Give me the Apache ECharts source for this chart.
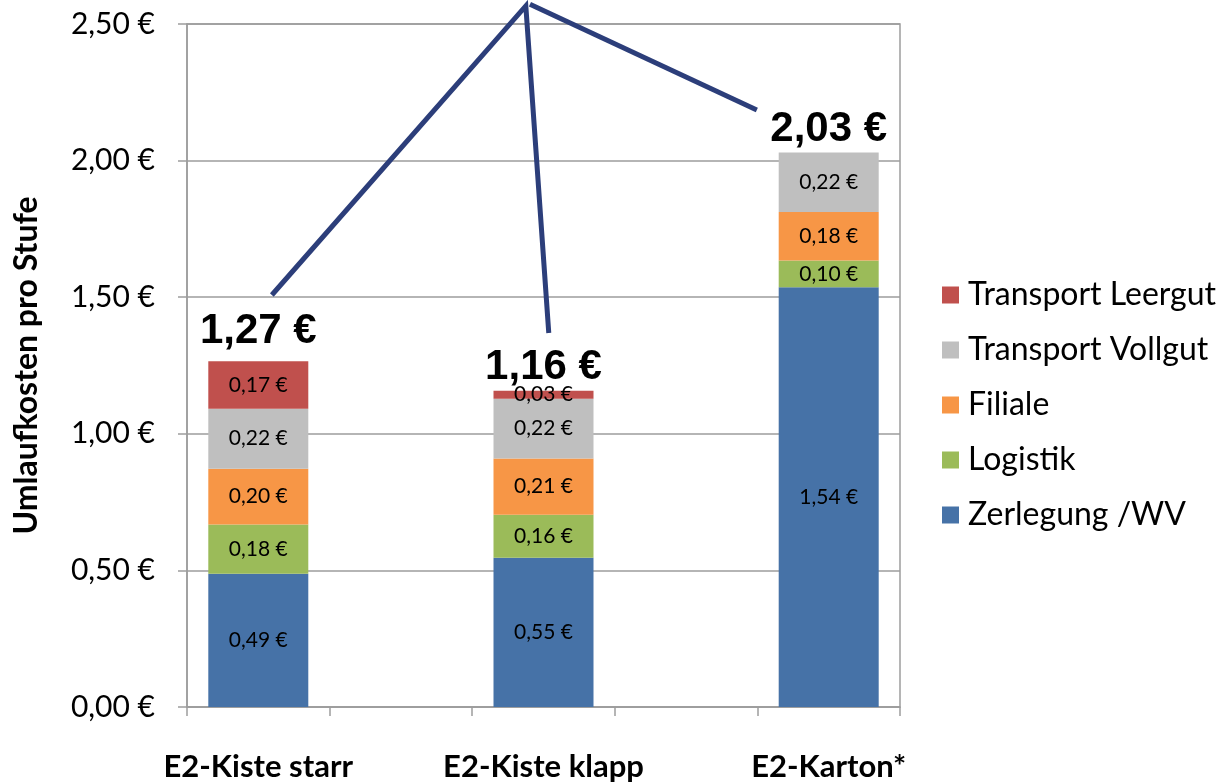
<!DOCTYPE html>
<html>
<head>
<meta charset="utf-8">
<title>Umlaufkosten pro Stufe</title>
<script src="https://cdn.jsdelivr.net/npm/echarts@6/dist/echarts.min.js"></script>
<style>
  html, body { margin: 0; padding: 0; background: #ffffff; }
  #chart { width: 1230px; height: 784px; }
</style>
</head>
<body>
<div id="chart"></div>
<script>
// Packaging types (one bar each)
const categories = ['E2-Kiste starr', 'E2-Kiste klapp', 'E2-Karton*'];

// Cost per stage in EUR, one entry per packaging type
const zerlegungWV      = [0.488, 0.546, 1.536];
const logistik         = [0.180, 0.158, 0.098];
const filiale          = [0.204, 0.206, 0.178];
const transportVollgut = [0.220, 0.218, 0.218];
const transportLeergut = [0.174, 0.030, null];

// Y axis range
const yTicks = [0, 0.5, 1.0, 1.5, 2.0, 2.5];

// Callout lines, anchored as [slot position, value]
const calloutA = [[0.095, 1.508], [1.876, 2.566], [2.037, 1.369]];
const calloutB = [[1.905, 2.572], [3.496, 2.185]];

const seriesDefs = [
  { name: 'Zerlegung /WV',     values: zerlegungWV,      color: '#4672A7' },
  { name: 'Logistik',          values: logistik,         color: '#9BBB59' },
  { name: 'Filiale',           values: filiale,          color: '#F79646' },
  { name: 'Transport Vollgut', values: transportVollgut, color: '#BFBFBF' },
  { name: 'Transport Leergut', values: transportLeergut, color: '#C0504D' }
];

// Bars sit in every other slot of a five-slot axis
const slots = [];
categories.forEach((c, i) => {
  if (i > 0) slots.push('');
  slots.push(c);
});
const toSlots = arr => {
  const out = [];
  arr.forEach((v, i) => {
    if (i > 0) out.push('-');
    out.push(v == null ? '-' : v);
  });
  return out;
};

const euro = v => v.toFixed(2).replace('.', ',') + ' €';

const totals = categories.map((c, i) =>
  seriesDefs.reduce((s, d) => s + (d.values[i] || 0), 0));

const chart = echarts.init(document.getElementById('chart'), null, { renderer: 'canvas' });

const barSeries = seriesDefs.map(d => ({
  name: d.name,
  type: 'bar',
  stack: 'kosten',
  barWidth: 100,
  data: toSlots(d.values),
  itemStyle: { color: d.color },
  label: {
    show: true,
    position: 'inside',
    fontFamily: 'Lato',
    fontSize: 21,
    color: '#000000',
    formatter: p => euro(p.value)
  }
}));

const totalData = [];
totals.forEach((t, i) => {
  totalData.push({
    value: [i * 2, t],
    label: { distance: i === 0 ? 9 : 2 }
  });
});

const totalSeries = {
  name: 'Gesamt',
  type: 'scatter',
  symbolSize: 0,
  data: totalData,
  silent: true,
  z: 5,
  itemStyle: { opacity: 1, color: '#000000' },
  label: {
    show: true,
    position: 'top',
    fontFamily: 'Liberation Sans',
    fontWeight: 'bold',
    fontSize: 42,
    color: '#000000',
    opacity: 1,
    formatter: p => euro(p.value[1])
  }
};

chart.setOption({
  animation: false,
  backgroundColor: '#ffffff',
  grid: {
    left: 187, right: 330, top: 24, bottom: 77,
    containLabel: false,
    outerBoundsMode: 'none',
    show: true, borderColor: '#9d9d9d', borderWidth: 1.5
  },
  legend: {
    orient: 'vertical',
    left: 937,
    top: 274,
    itemWidth: 17,
    itemHeight: 17,
    itemGap: 23,
    icon: 'rect',
    data: ['Transport Leergut', 'Transport Vollgut', 'Filiale', 'Logistik', 'Zerlegung /WV'],
    textStyle: {
      fontFamily: 'Lato',
      fontSize: 32,
      lineHeight: 32,
      color: '#000000',
      padding: [0, 0, 0, 4]
    }
  },
  xAxis: {
    type: 'category',
    data: slots,
    axisLine: { lineStyle: { color: '#9d9d9d', width: 1.5 } },
    axisTick: { show: true, length: 9, lineStyle: { color: '#9d9d9d', width: 1.5 } },
    axisLabel: {
      interval: 0,
      margin: 44,
      fontFamily: 'Lato',
      fontWeight: 'bold',
      fontSize: 31,
      color: '#000000'
    }
  },
  yAxis: {
    type: 'value',
    min: yTicks[0],
    max: yTicks[yTicks.length - 1],
    interval: yTicks[1] - yTicks[0],
    name: 'Umlaufkosten pro Stufe',
    nameLocation: 'middle',
    nameGap: 144,
    nameTextStyle: {
      fontFamily: 'Lato',
      fontWeight: 'bold',
      fontSize: 32,
      color: '#000000'
    },
    axisLine: { show: true, lineStyle: { color: '#9d9d9d', width: 1.5 } },
    axisTick: { show: true, length: 9, lineStyle: { color: '#9d9d9d', width: 1.5 } },
    splitLine: { show: true, lineStyle: { color: '#9d9d9d', width: 1.5 } },
    axisLabel: {
      margin: 32,
      fontFamily: 'Lato',
      fontSize: 30,
      color: '#000000',
      formatter: v => euro(v)
    }
  },
  series: barSeries.concat([totalSeries])
});

// Callout lines, converted from axis space to pixels
function toPx(pt) {
  const x0 = chart.convertToPixel({ xAxisIndex: 0 }, 0);
  const x1 = chart.convertToPixel({ xAxisIndex: 0 }, 1);
  const y = chart.convertToPixel({ yAxisIndex: 0 }, pt[1]);
  return [x0 + pt[0] * (x1 - x0), y];
}

chart.setOption({
  graphic: [
    {
      type: 'polyline',
      z: 10,
      shape: { points: calloutA.map(toPx) },
      style: { stroke: '#2C3E7A', lineWidth: 5, fill: null, lineJoin: 'miter' }
    },
    {
      type: 'polyline',
      z: 10,
      shape: { points: calloutB.map(toPx) },
      style: { stroke: '#2C3E7A', lineWidth: 5, fill: null }
    }
  ]
});
</script>
</body>
</html>
